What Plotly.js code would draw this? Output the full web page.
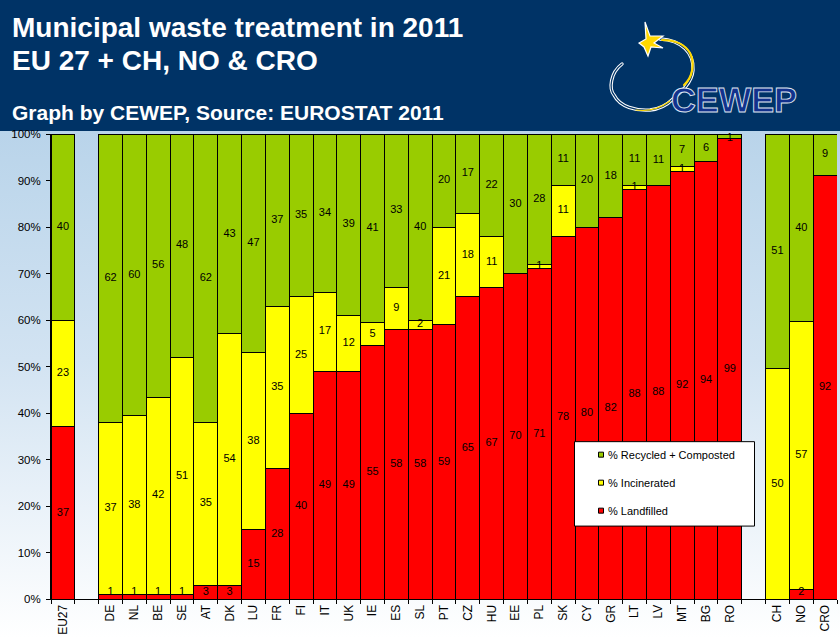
<!DOCTYPE html>
<html><head><meta charset="utf-8">
<script src="https://cdn.plot.ly/plotly-3.0.1.min.js"></script>
<style>
html,body{margin:0;padding:0;width:840px;height:638px;overflow:hidden;background:#fff}
#bg{position:absolute;left:0;top:131px;width:840px;height:507px;background:linear-gradient(to bottom,#b9d4ea 0%,#d2e3f2 45%,#ffffff 100%)}
#head{position:absolute;left:0;top:0;width:840px;height:131px;background:#003366}
#plot{position:absolute;left:0;top:0;width:840px;height:638px}
#logo{position:absolute;left:600px;top:15px;width:210px;height:110px}
</style></head><body>
<div id="bg"></div><div id="head"></div>
<svg id="logo" viewBox="0 0 210 110" xmlns="http://www.w3.org/2000/svg">
 <g fill="none" stroke-linecap="round">
  <path d="M22 49 C10 58 9 74 14 80 C20 92 36 96 50 95 C60 94 67 90 73 84 C80 78 92 68 93 55 C94 38 82 25 60 24" stroke="#fff" stroke-width="3.4"/>
  <path d="M22 49 C10 58 9 74 14 80 C20 92 36 96 50 95 C60 94 67 90 73 84 C80 78 92 68 93 55 C94 38 82 25 60 24" stroke="#003366" stroke-width="1.3"/>
  <path d="M36 95 C50 97 62 92 70 86" stroke="#ffd800" stroke-width="1.2"/>
  <path d="M84 70 C93 62 95 48 90 38 C84 28 74 25 62 25" stroke="#ffd800" stroke-width="2.2"/>
 </g>
 <path d="M45 7 L50 21 L63 21 L54 28 L63 33 L51 32 L48 41 L44 32 L39 28 L46 24 Z" fill="#ffd800" stroke="#fff" stroke-width="1.2"/>
 <text x="71" y="97" font-family="Liberation Sans" font-weight="bold" font-size="35" textLength="126" lengthAdjust="spacingAndGlyphs" fill="#12318c" stroke="#dfe6f0" stroke-width="0.9">CEWEP</text>
</svg>
<div id="plot"></div>
<script>
var categories = ['EU27',' ','DE','NL','BE','SE','AT','DK','LU','FR','FI','IT','UK','IE','ES','SL','PT','CZ','HU','EE','PL','SK','CY','GR','LT','LV','MT','BG','RO','  ','CH','NO','CRO'];
var landfilled = [37,null,1,1,1,1,3,3,15,28,40,49,49,55,58,58,59,65,67,70,71,78,80,82,88,88,92,94,99,null,0,2,92];
var incinerated = [23,null,37,38,42,51,35,54,38,35,25,17,12,5,9,2,21,18,11,0,1,11,0,0,1,0,1,0,0,null,50,57,0];
var recycled = [40,null,62,60,56,48,62,43,47,37,35,34,39,41,33,40,20,17,22,30,28,11,20,18,11,11,7,6,1,null,51,40,9];
var yTicks = [0,10,20,30,40,50,60,70,80,90,100];
var yLabels = ['0%','10%','20%','30%','40%','50%','60%','70%','80%','90%','100%'];
var FONT = 'Liberation Sans, Arial, sans-serif';

function bars(name, vals, col, rank){
  return {type:'bar', name:name, x:categories, y:vals, hoverinfo:'skip', legendgroup:name, legendrank:rank,
    marker:{color:col, line:{color:'#000', width:1}}};
}
// Segment labels sit above all stacked bars so thin segments keep their number visible.
function valueLabels(vals, below){
  var xs=[], ys=[], ts=[];
  vals.forEach(function(v,i){
    if(!v) return;
    var tot=landfilled[i]+incinerated[i]+recycled[i];
    var base=below.reduce(function(s,a){return s+a[i];},0);
    var mid=(base+v/2)/tot*100;
    xs.push(categories[i]); ys.push(Math.min(99,Math.max(1.4,mid))); ts.push(String(v));
  });
  return {type:'scatter', mode:'text', x:xs, y:ys, text:ts, textposition:'middle center', cliponaxis:false,
    showlegend:false, hoverinfo:'skip', textfont:{family:FONT, size:11, color:'#000'}};
}
var traces = [
  bars('% Landfilled', landfilled, '#ff0000', 3),
  bars('% Incinerated', incinerated, '#ffff00', 2),
  bars('% Recycled + Composted', recycled, '#99cc00', 1),
  valueLabels(landfilled, []),
  valueLabels(incinerated, [landfilled]),
  valueLabels(recycled, [landfilled, incinerated])
];
var W=786, H=465.5, L=51, T=133.5;
function px(x){return (x-L)/W;}
function py(y){return 1-(y-T)/H;}
function headLine(t, y, size){
  return {text:t, xref:'paper', yref:'paper', x:px(10), y:py(y), xanchor:'left', yanchor:'middle', showarrow:false,
    font:{family:FONT, size:size, color:'#fff', weight:700}};
}
var layout = {
  width:840, height:638, autosize:false,
  margin:{l:L, r:3, t:T, b:39, pad:0},
  paper_bgcolor:'rgba(0,0,0,0)', plot_bgcolor:'rgba(0,0,0,0)',
  barmode:'stack', barnorm:'percent', bargap:0,
  font:{family:FONT, size:11, color:'#000'},
  title:{text:'Municipal waste treatment in 2011', xref:'container', yref:'container',
         x:12/840, y:1-27/638, xanchor:'left', yanchor:'middle', automargin:false,
         font:{family:FONT, size:28, color:'#fff', weight:700}},
  annotations:[headLine('EU 27 + CH, NO &amp; CRO', 60, 28), headLine('Graph by CEWEP, Source: EUROSTAT 2011', 112, 21)],
  xaxis:{type:'category', categoryorder:'array', categoryarray:categories, tickmode:'array', tickvals:categories, ticktext:categories,
         range:[-0.5, categories.length-0.5], autorange:false,
         tickson:'boundaries', ticks:'outside', ticklen:4, tickwidth:1, tickcolor:'#000',
         showline:true, linecolor:'#000', linewidth:1, showgrid:false, zeroline:false,
         tickangle:-90, tickfont:{size:12, color:'#000'}, fixedrange:true, automargin:false},
  yaxis:{range:[0,100], tickmode:'array', tickvals:yTicks, ticktext:yLabels,
         ticks:'outside', ticklen:4, tickwidth:1, tickcolor:'#000', ticklabelstandoff:3,
         showline:true, linecolor:'#000', linewidth:1, showgrid:false, zeroline:false,
         tickfont:{size:11.5, color:'#000'}, fixedrange:true, automargin:false},
  shapes:[{type:'rect', xref:'paper', yref:'paper', x0:px(574.5), x1:px(754.5), y0:py(526), y1:py(441.5),
         fillcolor:'#fff', line:{color:'#000', width:1}, layer:'above'}],
  showlegend:true,
  legend:{x:px(581), y:py(440), xanchor:'left', yanchor:'top', bgcolor:'rgba(0,0,0,0)', borderwidth:0,
          traceorder:'grouped', tracegroupgap:9, itemclick:false, itemdoubleclick:false, itemwidth:30,
          font:{size:11, color:'#000'}}
};
Plotly.newPlot('plot', traces, layout, {displayModeBar:false, staticPlot:true}).then(function(){
  document.querySelectorAll('.legendpoints path').forEach(function(p){
    p.setAttribute('d','M2.5,2.5H-2.5V-2.5H2.5Z');
    p.style.strokeWidth='1px'; p.style.stroke='#000';
  });
  document.querySelectorAll('text.legendtext').forEach(function(t){
    t.setAttribute('x', parseFloat(t.getAttribute('x'))-13);
  });
});
</script>
</body></html>
